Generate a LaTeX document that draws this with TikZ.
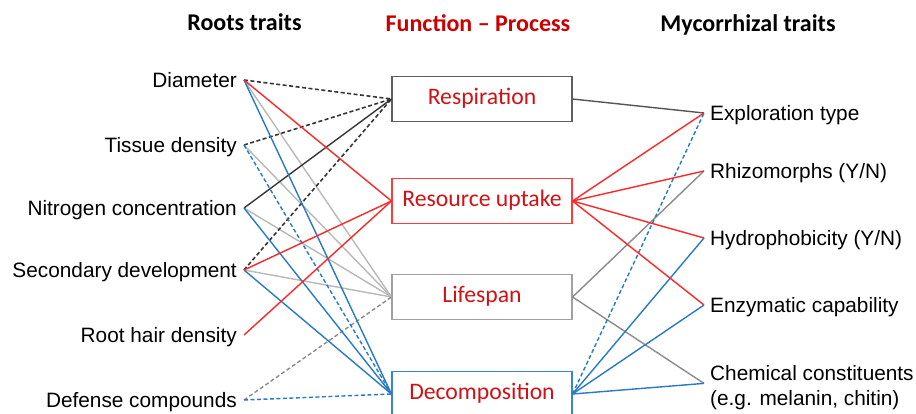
\documentclass[tikz,border=0pt]{standalone}
\usepackage{fontspec}
\setmainfont{Liberation Sans}
\newfontfamily\calfont[Ligatures=TeX]{Carlito}
\definecolor{hdrred}{RGB}{204,0,0}
\definecolor{boxtxt}{RGB}{208,18,22}
\definecolor{lnred}{RGB}{255,40,40}
\definecolor{lnblue}{RGB}{40,122,200}
\definecolor{lngray}{RGB}{185,185,185}
\definecolor{lnmid}{RGB}{140,140,140}
\definecolor{lndark}{RGB}{55,55,55}
\definecolor{bxdark}{RGB}{95,95,95}
\definecolor{bxred}{RGB}{255,60,60}
\definecolor{bxgray}{RGB}{160,160,160}
\definecolor{bxblue}{RGB}{55,135,205}
\begin{document}
\begin{tikzpicture}[x=1pt,y=-1pt,
  hdr/.style={font=\calfont\bfseries\fontsize{24}{28}\selectfont, anchor=base, inner sep=0pt},
  llab/.style={font=\fontsize{20.8}{25}\selectfont, anchor=east, inner ysep=0pt, inner xsep=7pt,
    text height=14.6pt, text depth=0pt},
  rlab/.style={font=\fontsize{20.8}{25}\selectfont, anchor=west, inner ysep=0pt, inner xsep=6pt,
    text height=14.6pt, text depth=0pt},
  proc/.style={draw, line width=1.1pt, minimum width=180pt, minimum height=45pt, inner sep=0pt,
    text height=15.5pt, text depth=5pt, font=\calfont\fontsize{23.7}{28}\selectfont, text=boxtxt},
  con/.style={line width=1.4pt},
  cred/.style={con, lnred},
  cblue/.style={con, lnblue},
  cblued/.style={con, lnblue, dash pattern=on 4pt off 2.5pt},
  cgray/.style={con, lngray},
  cmid/.style={con, lnmid},
  cmidd/.style={con, lnmid, dash pattern=on 4pt off 2.5pt},
  cdark/.style={con, lndark},
  cdarkd/.style={con, lndark, line width=1.6pt, dash pattern=on 4pt off 2.5pt},
]
\useasboundingbox (0,0) rectangle (916,414);
\clip (0,0) rectangle (916,414);
\fill[white] (0,0) rectangle (916,414);

% headers
\node[hdr] (h1) at (244.5,31) {Roots traits};
\node[hdr, text=hdrred] (h2) at (478,32) {Function \textendash{} Process};
\node[hdr] (h3) at (748,32) {Mycorrhizal traits};

% process boxes
\node[proc, draw=bxdark] (resp) at (482,99) {Respiration};
\node[proc, draw=bxred] (res) at (482,201) {Resource uptake};
\node[proc, draw=bxgray] (life) at (482,297) {Lifespan};
\node[proc, draw=bxblue] (dec) at (482,394) {Decomposition};

% root traits
\node[llab] (dia) at (244,80) {Diameter};
\node[llab] (tis) at (244,145) {Tissue density};
\node[llab] (nit) at (244,208) {Nitrogen concentration};
\node[llab] (sec) at (244,270) {Secondary development};
\node[llab] (hair) at (244,335) {Root hair density};
\node[llab] (def) at (244,400) {Defense compounds};

% mycorrhizal traits
\node[rlab] (expl) at (704,113) {Exploration type};
\node[rlab] (rhiz) at (704,171) {Rhizomorphs (Y/N)};
\node[rlab] (hydro) at (704,238) {Hydrophobicity (Y/N)};
\node[rlab] (enz) at (704,305) {Enzymatic capability};
\node[font=\fontsize{20.8}{25}\selectfont, anchor=north west, inner ysep=0pt, inner xsep=6pt, align=left]
  (chem) at (704,365.5) {Chemical constituents\\(e.g. melanin, chitin)};
\coordinate (chemin) at ([yshift=4.5pt]chem.west);

% left connectors
\draw[cgray] (dia.east) -- (life.west);
\draw[cgray] (tis.east) -- (life.west);
\draw[cgray] (nit.east) -- (life.west);
\draw[cgray] (sec.east) -- (life.west);
\draw[cmidd] (def.east) -- (life.west);
\draw[cdarkd] (dia.east) -- (resp.west);
\draw[cdarkd] (tis.east) -- (resp.west);
\draw[cdark] (nit.east) -- (resp.west);
\draw[cdarkd] (sec.east) -- (resp.west);
\draw[cblue] (dia.east) -- (dec.west);
\draw[cblued] (tis.east) -- (dec.west);
\draw[cblue] (nit.east) -- (dec.west);
\draw[cblue] (sec.east) -- (dec.west);
\draw[cblued] (def.east) -- (dec.west);
\draw[cred] (dia.east) -- (res.west);
\draw[cred] (sec.east) -- (res.west);
\draw[cred] (hair.east) -- (res.west);

% right connectors
\draw[cdark, lndark!85] (resp.east) -- (expl.west);
\draw[cmid] (life.east) -- (rhiz.west);
\draw[cmid] (life.east) -- (chemin);
\draw[cblued] (dec.east) -- (expl.west);
\draw[cblue] (dec.east) -- (hydro.west);
\draw[cblue] (dec.east) -- (enz.west);
\draw[cblue] (dec.east) -- (chemin);
\draw[cred] (res.east) -- (expl.west);
\draw[cred] (res.east) -- (rhiz.west);
\draw[cred] (res.east) -- (hydro.west);
\draw[cred] (res.east) -- (enz.west);
\end{tikzpicture}
\end{document}
